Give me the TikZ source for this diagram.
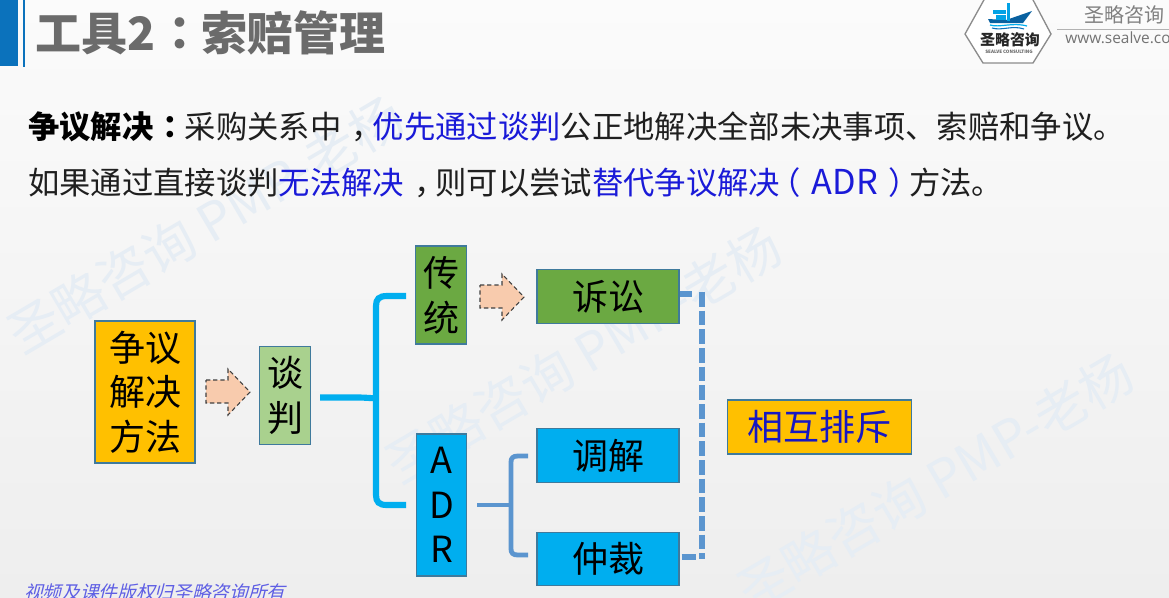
\documentclass[tikz,border=0pt]{standalone}
\usepackage{fontspec}
\setmainfont{Noto Sans CJK SC}
\newfontfamily\cjkslant[FakeSlant=0.25]{Noto Sans CJK SC}
\newfontfamily\latinsans{Open Sans}
\definecolor{amberfill}{HTML}{FFC000}
\definecolor{lightgreen}{HTML}{A9D18E}
\definecolor{midgreen}{HTML}{6BA942}
\definecolor{skyfill}{HTML}{00AEEF}
\definecolor{boxedge}{HTML}{3F7A9C}
\definecolor{steelblue}{HTML}{5B95CF}
\definecolor{peachfill}{HTML}{F8CBAD}
\definecolor{titlegrey}{HTML}{6B6B6B}
\definecolor{textblue}{HTML}{1A1AD8}
\definecolor{markcolor}{HTML}{E6EDF4}
\definecolor{barblue}{HTML}{0B72BC}
\definecolor{bgtop}{HTML}{FBFBFB}
\definecolor{bgmid}{HTML}{F6F6F6}
\definecolor{bgbot}{HTML}{EEEEEE}
% centre a full-width punctuation mark in its cell, as the reference does
\newcommand{\pl}[1]{\kern.28em\raisebox{.04em}{#1}\kern-.28em}
\newcommand{\pr}[1]{\kern-.33em#1\kern.33em}
\newcommand{\plk}[1]{\kern.33em#1\kern-.33em}
\newcommand{\wideadr}{{\fontsize{25.7}{28}\selectfont ADR}}
\tikzset{
  boxnode/.style={draw=boxedge,line width=0.8pt,inner sep=0pt,align=center,text=black},
  bigtext/.style={font=\fontsize{27}{33.5}\selectfont},
  bodyline/.style={anchor=west,inner sep=0pt,font=\fontsize{23.5}{28}\selectfont,text=black!88},
  watermark/.style={rotate=30.5,text=markcolor,inner sep=0pt,font=\fontsize{39}{44}\selectfont},
  dashedarrow/.style={draw=black!75,line width=0.8pt,fill=peachfill,dash pattern=on 3.2pt off 2.2pt},
  mainbrace/.style={draw=skyfill,line width=4.6pt},
  subbrace/.style={draw=steelblue,line width=3.6pt},
  linkdash/.style={draw=steelblue,line width=4pt}
}
\begin{document}
\begin{tikzpicture}[x=0.75pt,y=-0.75pt]
\useasboundingbox (0,0) rectangle (1169,597);
\clip (0,0) rectangle (1169,597);
\shade[top color=bgtop,middle color=bgmid,bottom color=bgbot] (0,0) rectangle (1169,597);
% watermarks
\node[watermark] (wm1) at (205,225) {圣略咨询 PMP-老杨};
\node[watermark] (wm2) at (583,355) {圣略咨询 PMP-老杨};
\node[watermark] (wm3) at (935,482) {圣略咨询 PMP-老杨};
% title
\fill[barblue] (0,0) rectangle (18,66);
\fill[barblue] (23,0) rectangle (25,67);
\node[anchor=west,inner sep=0pt,text=titlegrey,font=\fontsize{34.5}{40}\selectfont\bfseries] (title) at (35,33) {工具2\pl{：}索赔管理};
% logo
\draw[draw=black!45,line width=1pt,fill=white] (965,34) -- (985,-2) -- (1032,-2) -- (1051,34) -- (1033,63) -- (983,63) -- cycle;
\fill[barblue!85!black] (1006,20) -- (1032,11) -- (1023,23) -- (990,23) -- (988,19) -- cycle;
\fill[skyfill!80!barblue] (1007,3) rectangle (1010,21);
\fill[skyfill!80!barblue] (993,10) rectangle (1006,14);
\fill[skyfill!80!barblue] (996,15) rectangle (1006,20);
\draw[skyfill,line width=0.9pt] (990,25) .. controls (1000,28) and (1012,22) .. (1027,26);
\draw[barblue,line width=0.8pt] (992,28) .. controls (1002,31) and (1012,25) .. (1024,29);
\node[inner sep=0pt,text=black!85,font=\fontsize{11.2}{12}\selectfont\bfseries] (logotext) at (1010,40) {圣略咨询};
\node[inner sep=0pt,text=black!60,font=\fontsize{3.4}{4}\selectfont\bfseries] (logosub) at (1009,52) {SEALVE CONSULTING};
\node[anchor=west,inner sep=0pt,text=black!50,font=\fontsize{15}{18}\selectfont] (brand) at (1084,15) {圣略咨询};
\draw[black!30,line width=0.7pt] (1057,29) -- (1169,29);
\node[anchor=west,inner sep=0pt,text=black!55,font=\latinsans\fontsize{11.6}{14}\selectfont] (site) at (1065,38) {www.sealve.com};
% body
\node[bodyline] (line1) at (28,127) {\textbf{\textcolor{black}{争议解决\pl{：}}}采购关系中\plk{，}\textcolor{textblue}{优先通过谈判}公正地解决全部未决事项、索赔和争议。};
\node[bodyline] (line2) at (28,183) {如果通过直接谈判\textcolor{textblue}{无法解决}\plk{，}则可以尝试\textcolor{textblue}{替代争议解决\pr{（}\wideadr\plk{）}}方法。};
% boxes
\node[boxnode,bigtext,fill=amberfill,minimum width=75pt,minimum height=106.5pt] (method) at (145,392) {争议\\解决\\方法};
\node[boxnode,bigtext,fill=lightgreen,minimum width=38pt,minimum height=73pt] (negotiate) at (285,395.5) {谈\\判};
\node[boxnode,bigtext,fill=midgreen,minimum width=38pt,minimum height=73.5pt] (tradition) at (441,295) {传\\统};
\node[boxnode,bigtext,fill=skyfill,minimum width=38pt,minimum height=106.5pt] (adr) at (441.5,505) {A\\D\\R};
\node[boxnode,bigtext,fill=midgreen,minimum width=106.5pt,minimum height=40pt] (lawsuit) at (608,296.5) {诉讼};
\node[boxnode,bigtext,fill=skyfill,minimum width=106.5pt,minimum height=40pt] (mediate) at (608,455.5) {调解};
\node[boxnode,bigtext,fill=skyfill,minimum width=106.5pt,minimum height=40pt] (arbitrate) at (608,559) {仲裁};
\node[boxnode,bigtext,fill=amberfill,minimum width=138.5pt,minimum height=40.5pt,text=textblue!90!black] (exclusive) at (819.5,427) {相互排斥};
% dashed block arrows
\coordinate (a1s) at (206,392);
\coordinate (a2s) at (480,297);
\draw[dashedarrow] (a1s) ++(0,-12) -- ++(22,0) -- ++(0,-11) -- (250,392) -- (228,415) -- ++(0,-12) -- ++(-22,0) -- cycle;
\draw[dashedarrow] (a2s) ++(0,-12) -- ++(22,0) -- ++(0,-11) -- (524,297) -- (502,320) -- ++(0,-12) -- ++(-22,0) -- cycle;
% main brace
\coordinate (b1in) at (320,397.5);
\coordinate (b1top) at (406,296);
\coordinate (b1bot) at (406,505);
\draw[mainbrace] (b1in) -- (358,397.5) .. controls (368,397.5) and (376,399) .. (378,397.5);
\draw[mainbrace] (b1top) -- (387,296) .. controls (379,296) and (376,299) .. (376,306) -- (376,495) .. controls (376,502) and (379,505) .. (387,505) -- (b1bot);
% sub brace
\coordinate (b2in) at (477,505);
\coordinate (b2top) at (528,456);
\coordinate (b2bot) at (528,555);
\draw[subbrace] (b2in) -- (513,505);
\draw[subbrace] (b2top) -- (518,456) .. controls (513,456) and (511,458) .. (511,462) -- (511,549) .. controls (511,553) and (513,555) .. (518,555) -- (b2bot);
% dashed link
\coordinate (c1) at (702,294);
\coordinate (c2) at (702,557);
\draw[linkdash,dash pattern=on 9.6pt off 30pt] (lawsuit.east) ++(0,-2.5) -- (c1);
\draw[linkdash,dash pattern=on 10.5pt off 30pt] (arbitrate.east) ++(2,-2) -- (c2);
\draw[linkdash,dash pattern=on 11pt off 3pt] (702,292) -- (702,559);
% footer
\node[anchor=west,inner sep=0pt,text=textblue!70!white,font=\cjkslant\fontsize{14}{16}\selectfont] (footer) at (24,592) {视频及课件版权归圣略咨询所有};
\end{tikzpicture}
\end{document}
